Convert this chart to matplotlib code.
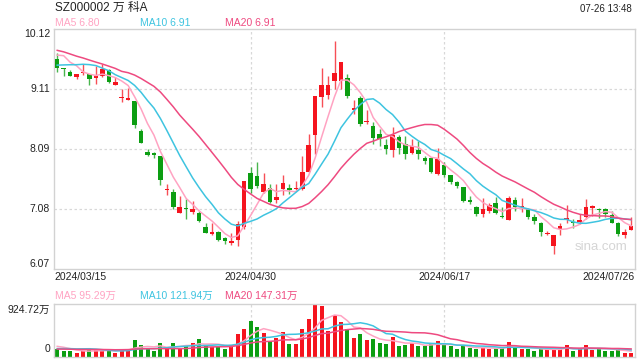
import numpy as np
import pandas as pd
import matplotlib
matplotlib.use('Agg')
import matplotlib.pyplot as plt
from matplotlib.transforms import blended_transform_factory

plt.rcParams['font.family'] = ['Liberation Sans', 'Noto Sans CJK SC']

# ---- data (daily, 2024/03/15 - 2024/07/26) ----
date_labels = ['2024/03/15', '2024/04/30', '2024/06/17', '2024/07/26']
date_idx = [0, 30, 60, 89]

opens = [9.615, 9.45, 9.40, 9.316, 9.37, 9.36, 9.29, 9.33, 9.43, 9.18,
         8.96, 8.93, 8.91, 8.397, 8.04, 8.02, 7.974, 7.40, 7.365, 7.015,
         7.095, 7.04, 7.015, 6.772, 6.665, 6.693, 6.586, 6.513, 6.552, 6.778,
         7.698, 7.635, 7.37, 7.444, 7.236, 7.415, 7.433, 7.42, 7.415, 7.71,
         8.33, 8.978, 9.01, 9.25, 9.237, 9.288, 8.75, 8.955, 8.543, 8.487,
         8.34, 8.17, 8.08, 8.29, 8.177, 8.024, 8.08, 7.95, 7.95, 7.67,
         7.82, 7.65, 7.54, 7.46, 7.23, 7.12, 6.99, 7.05, 7.19, 6.955,
         6.90, 7.24, 7.12, 7.09, 6.955, 6.85, 6.66, 6.457, 6.739, 6.90,
         6.86, 6.87, 6.94, 7.105, 7.09, 7.09, 6.98, 6.85, 6.65, 6.73]
highs = [9.716, 9.46, 9.43, 9.36, 9.53, 9.36, 9.49, 9.53, 9.445, 9.316,
         9.1075, 9.12, 8.91, 8.43, 8.10, 8.05, 7.974, 7.51, 7.42, 7.303,
         7.246, 7.21, 7.05, 6.84, 6.85, 6.716, 6.614, 6.676, 6.874, 7.551,
         7.793, 7.878, 7.687, 7.50, 7.51, 7.65, 7.50, 7.562, 7.98, 8.34,
         8.995, 9.457, 9.33, 9.925, 9.559, 9.36, 8.93, 8.995, 8.757, 8.555,
         8.43, 8.26, 8.47, 8.33, 8.32, 8.27, 8.23, 7.97, 7.95, 8.12,
         7.87, 7.65, 7.56, 7.46, 7.30, 7.13, 7.26, 7.19, 7.29, 7.12,
         7.30, 7.28, 7.26, 7.10, 6.995, 6.86, 6.71, 6.64, 6.85, 7.145,
         6.92, 6.99, 7.25, 7.145, 7.10, 7.10, 7.05, 6.86, 6.74, 6.955]
lows = [9.40, 9.33, 9.33, 9.27, 9.35, 9.175, 9.19, 9.31, 9.21, 9.18,
        8.89, 8.92, 8.45, 8.20, 7.98, 7.935, 7.48, 7.314, 7.088, 7.015,
        6.92, 7.004, 6.862, 6.682, 6.637, 6.547, 6.485, 6.474, 6.45, 6.74,
        7.359, 7.444, 7.348, 7.19, 7.18, 7.32, 7.33, 7.41, 7.40, 7.71,
        8.01, 8.81, 8.94, 9.1075, 9.1075, 8.955, 8.684, 8.487, 8.515, 8.177,
        8.15, 8.01, 7.96, 8.01, 7.92, 8.01, 7.92, 7.85, 7.686, 7.65,
        7.63, 7.50, 7.44, 7.20, 7.16, 6.965, 6.95, 7.01, 7.00, 6.93,
        6.90, 7.05, 7.03, 6.92, 6.83, 6.63, 6.64, 6.316, 6.64, 6.85,
        6.77, 6.83, 6.92, 6.965, 6.93, 6.94, 6.84, 6.63, 6.60, 6.73]
closes = [9.468, 9.44, 9.33, 9.36, 9.39, 9.27, 9.33, 9.445, 9.23, 9.23,
          8.978, 8.95, 8.50, 8.20, 7.996, 8.00, 7.573, 7.42, 7.116, 7.11,
          7.078, 7.078, 6.874, 6.682, 6.688, 6.558, 6.535, 6.547, 6.823, 7.551,
          7.415, 7.472, 7.50, 7.20, 7.286, 7.528, 7.41, 7.44, 7.715, 8.16,
          8.995, 9.175, 9.175, 9.384, 9.559, 8.995, 8.78, 8.515, 8.57, 8.273,
          8.26, 8.10, 8.33, 8.12, 8.01, 8.15, 8.01, 7.895, 7.71, 7.923,
          7.65, 7.54, 7.47, 7.22, 7.20, 6.99, 7.09, 7.145, 7.02, 6.94,
          7.26, 7.12, 7.14, 6.94, 6.88, 6.69, 6.68, 6.64, 6.795, 6.93,
          6.84, 6.90, 7.11, 7.12, 7.07, 6.99, 6.85, 6.66, 6.69, 6.795]
# volume, in 万 shares
volumes = [139, 109, 96, 78, 109, 121, 133, 102, 109, 78,
           146, 146, 294, 201, 133, 109, 238, 164, 238, 164,
           201, 238, 312, 213, 176, 176, 146, 201, 410, 497,
           627, 516, 423, 275, 331, 442, 226, 226, 497, 664,
           924.72, 885, 460, 725, 608, 485, 331, 398, 294, 318,
           238, 226, 349, 189, 213, 238, 189, 189, 226, 275,
           213, 189, 146, 189, 152, 146, 176, 133, 152, 152,
           257, 176, 146, 133, 109, 146, 133, 146, 133, 213,
           109, 133, 213, 127, 146, 109, 109, 133, 78, 78]

# closes / volumes before the visible window (only feed the moving averages)
pre_close = [9.95, 10.05, 10.10, 10.00, 9.98, 10.02, 10.08, 9.96, 9.98, 9.98,
             9.40, 9.30, 9.35, 9.32, 9.33, 9.49, 9.88, 9.66, 9.90]
pre_vol = [130, 125, 140, 120, 135, 130, 125, 140, 130, 125,
           110, 105, 115, 100, 110, 190, 210, 200, 190]

price_ticks = ['10.12', '9.11', '8.09', '7.08', '6.07']
ma_labels = ['MA5 6.80', 'MA10 6.91', 'MA20 6.91']
vol_ma_labels = ['MA5 95.29万', 'MA10 121.94万', 'MA20 147.31万']

RED = '#f5141e'
GREEN = '#0c9e12'
MA_COLORS = ['#ffa3c2', '#3ec4e0', '#ee4a80']
FRAME = '#d2d2d2'
GRID = '#d8d8d8'

n = len(closes)
x = np.arange(n)
o = np.array(opens); h = np.array(highs); l = np.array(lows); c = np.array(closes)
up = c >= o

close_all = pd.Series(pre_close + closes)
vol_all = pd.Series(pre_vol + volumes)
k = len(pre_close)

fig = plt.figure(figsize=(6.4, 3.6), dpi=100)
ax = fig.add_axes([54 / 640, 1 - 269 / 360, 581 / 640, 240 / 360])
axv = fig.add_axes([54 / 640, 1 - 357 / 360, 581 / 640, 53 / 360])

lo, hi = float(price_ticks[-1]), float(price_ticks[0])
xmin, xmax = -0.5, 89.6

for a in (ax, axv):
    a.set_xlim(xmin, xmax)
    a.set_xticks([])
    a.set_yticks([])
    for s in a.spines.values():
        s.set_color(FRAME)
        s.set_linewidth(1)
    for xi in date_idx[1:3]:
        a.axvline(xi, color=GRID, lw=0.9, ls=(0, (2, 2)), zorder=0)

ax.set_ylim(lo, hi)
grid_vals = np.linspace(hi, lo, 5)
for gv in grid_vals[1:-1]:
    ax.axhline(gv, color=GRID, lw=0.9, ls=(0, (2, 2)), zorder=0)

# candles
cols = np.where(up, RED, GREEN)
ax.vlines(x, l, h, colors=cols, lw=1, alpha=0.75, zorder=2)
body_lo = np.minimum(o, c)
body_h = np.maximum(np.abs(c - o), 0.02)
ax.bar(x, body_h, bottom=body_lo, width=0.7, color=cols, zorder=3, linewidth=0)

# moving averages
for w, col in zip([5, 10, 20], MA_COLORS):
    ma = close_all.rolling(w).mean().values[k:]
    ax.plot(x, ma, color=col, lw=1.1, zorder=4)
    mav = vol_all.rolling(w).mean().values[k:]
    axv.plot(x, mav, color=col, lw=1.1, zorder=4)

# volume
vcols = np.where(up, RED, GREEN)
axv.bar(x, volumes, width=0.62, color=vcols, linewidth=0, zorder=2)
axv.set_ylim(0, max(volumes))

# y labels
tr = blended_transform_factory(fig.transFigure, ax.transData)
for gv, lab in zip(grid_vals, price_ticks):
    va = 'top' if lab == price_ticks[0] else ('bottom' if lab == price_ticks[-1] else 'center')
    ax.text(50 / 640, gv, lab, transform=tr, ha='right', va=va, fontsize=7.5, color='#222222')
trv = blended_transform_factory(fig.transFigure, axv.transAxes)
axv.text(50 / 640, 0.98, '924.72万', transform=trv, ha='right', va='top', fontsize=7.5, color='#222222')
axv.text(50 / 640, 0.05, '0', transform=trv, ha='right', va='bottom', fontsize=7.5, color='#222222')

# date labels
trx = blended_transform_factory(ax.transData, fig.transFigure)
for xi, lab in zip(date_idx, date_labels):
    if xi == date_idx[0]:
        xp, ha = xmin, 'left'
    elif xi == date_idx[-1]:
        xp, ha = xmax, 'right'
    else:
        xp, ha = xi, 'center'
    ax.text(xp, 1 - 277 / 360, lab, transform=trx, ha=ha, va='center', fontsize=7.5, color='#222222')

# header texts
fig.text(55 / 640, 1 - 8 / 360, 'SZ000002 万 科A', ha='left', va='center', fontsize=8.5, color='#222222')
fig.text(632 / 640, 1 - 9 / 360, '07-26 13:48', ha='right', va='center', fontsize=7, color='#222222')
for xp, lab, col in zip([55, 140, 225], ma_labels, MA_COLORS):
    fig.text(xp / 640, 1 - 23 / 360, lab, ha='left', va='center', fontsize=7.5, color=col)
for xp, lab, col in zip([55, 140, 225], vol_ma_labels, MA_COLORS):
    fig.text(xp / 640, 1 - 296 / 360, lab, ha='left', va='center', fontsize=7.5, color=col)

fig.text(601 / 640, 1 - 247 / 360, 'sina.com', ha='center', va='center', fontsize=9.5, color='#d5d5d5')

fig.savefig('out.png', dpi=100)
